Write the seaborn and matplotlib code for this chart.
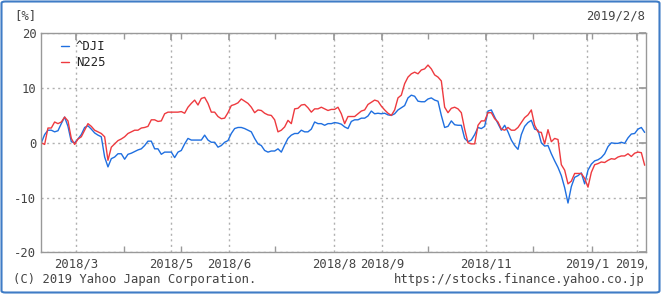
import numpy as np
import pandas as pd
import matplotlib
matplotlib.use("Agg")
import matplotlib.pyplot as plt
import seaborn as sns
from matplotlib.patches import FancyBboxPatch
from matplotlib.transforms import Bbox, TransformedBbox
from matplotlib.lines import Line2D

# ---- data (percent change since 2018/2/8, sampled evenly along the time axis) ----
dji = [
    0, 1.5, 2.3, 2.3, 2.0, 2.2, 3.5, 4.7, 3.0, 0.2, 0, 0.7, 1.5, 2.8, 3.1, 2.5,
    1.8, 1.4, 1.1, -2.6, -4.4, -2.9, -2.6, -2.0, -2.0, -3.0, -2.1, -1.9, -1.6, -1.3, -1.1, -0.5,
    0.3, 0.3, -1.1, -1.1, -2.1, -1.7, -1.7, -1.7, -2.7, -1.7, -1.4, -0.2, 0.8, 0.5, 0.5, 0.5,
    0.5, 1.4, 0.5, 0.1, 0.1, -0.8, -0.5, 0.1, 0.4, 1.7, 2.6, 2.8, 2.8, 2.6, 2.3, 2.0, 0.8,
    -0.2, -0.5, -1.4, -1.7, -1.5, -1.5, -1.1, -1.7, -0.4, 0.8, 1.4, 1.7, 1.7, 2.3, 2.0, 2.0,
    2.5, 3.8, 3.5, 3.5, 3.2, 3.5, 3.5, 3.7, 3.6, 3.4, 2.9, 2.6, 3.9, 4.2, 4.2, 4.5,
    4.5, 4.9, 5.8, 5.3, 5.4, 5.3, 5.4, 5.1, 5.0, 5.3, 6.0, 6.4, 6.8, 8.2, 8.7, 8.5,
    7.6, 7.5, 7.5, 8.0, 8.2, 7.8, 7.6, 5.0, 2.8, 3.0, 4.0, 3.3, 3.2, 3.2, 0.8, 0.2,
    0.5, 1.5, 2.8, 2.6, 3.0, 5.8, 6.0, 4.7, 3.5, 2.3, 3.2, 2.0, 0.5, -0.5, -1.2, 1.5,
    3.0, 3.7, 4.1, 2.5, 2.3, 0.0, -0.6, -0.5, -2.0, -3.3, -4.5, -6.0, -8.2, -11.0,
    -8.0, -6.3, -6.0, -5.5, -7.5, -5.0, -3.9, -3.3, -3.1, -2.7, -2.0, -0.7, 0.0, -0.1,
    -0.1, 0.1, -0.1, 0.9, 1.6, 1.7, 2.5, 2.8, 1.9,
]
n225 = [
    0, -0.3, 2.7, 2.7, 3.8, 3.5, 3.8, 4.7, 4.0, 0.8, -0.3, 0.7, 1.1, 2.3, 3.5, 3.0,
    2.3, 2.0, 1.7, 1.1, -3.2, -0.8, -0.2, 0.4, 0.7, 1.1, 1.7, 2.0, 2.3, 2.3, 2.7, 2.8,
    3.0, 4.2, 4.2, 3.9, 4.0, 5.3, 5.6, 5.6, 5.6, 5.6, 5.7, 5.4, 6.5, 7.2, 7.8, 6.9,
    8.1, 8.3, 7.2, 5.6, 5.6, 4.8, 4.4, 4.5, 5.5, 6.8, 7.0, 7.3, 8.0, 7.6, 7.2, 6.5, 5.5,
    6.0, 5.9, 5.4, 5.1, 5.0, 4.2, 2.0, 2.3, 2.9, 4.1, 3.5, 6.2, 6.3, 6.9, 7.0, 6.4,
    5.6, 6.2, 6.2, 6.5, 6.2, 5.9, 6.1, 6.1, 6.5, 5.3, 3.5, 4.8, 4.8, 4.8, 5.3, 5.8,
    6.0, 7.0, 7.4, 7.8, 7.6, 6.7, 6.0, 5.4, 5.0, 6.0, 8.2, 8.7, 10.8, 12.0, 12.6, 12.9,
    12.6, 13.3, 13.5, 14.2, 13.5, 12.4, 12.0, 11.3, 6.5, 5.5, 6.3, 6.5, 6.2, 5.5, 2.5, 0.0,
    -0.2, -0.2, 3.2, 4.0, 4.0, 5.5, 5.5, 4.4, 3.8, 2.5, 2.3, 2.8, 2.3, 2.3, 2.8, 3.7,
    4.6, 5.1, 6.0, 3.2, 2.0, 1.9, -0.2, 2.4, 0.2, 0.8, 0.6, -4.0, -5.0, -7.5,
    -7.0, -5.6, -5.6, -5.6, -6.5, -8.1, -5.4, -4.0, -3.8, -3.5, -3.6, -3.2, -2.9, -3.0,
    -2.6, -2.4, -2.4, -2.0, -2.5, -1.9, -1.7, -1.8, -4.1,
]
series_names = ["^DJI", "N225"]
tick_labels = ["2018/3", "2018/5", "2018/6", "2018/8", "2018/9", "2018/11", "2019/1", "2019/2"]
y_ticks = [-20, -10, 0, 10, 20]

df = pd.concat([
    pd.DataFrame({"t": np.arange(len(dji)), "pct": dji, "name": series_names[0]}),
    pd.DataFrame({"t": np.arange(len(n225)), "pct": n225, "name": series_names[1]}),
])

# ---- style ----
sns.set_theme(style="white")
plt.rcParams["font.family"] = ["DejaVu Sans Mono"]
plt.rcParams["axes.unicode_minus"] = False
FS = 8.8

W, H = 661, 294
fig = plt.figure(figsize=(W / 100, H / 100), dpi=100)
ax = fig.add_axes([41.3 / W, 1 - 252.3 / H, (646 - 41.3) / W, (252.3 - 33.3) / H])

palette = {"^DJI": "#1f6fe0", "N225": "#ee3a3f"}
sns.lineplot(data=df, x="t", y="pct", hue="name", palette=palette, linewidth=1.0,
             ax=ax, legend=False)

ax.set_xlim(0, 181.4)
ax.set_ylim(-20, 20)
tick_pos = [10.4, 38.9, 56.3, 87.8, 102.2, 133.4, 163.7, 178.7]
ax.set_xticks(tick_pos)
ax.set_xticklabels(tick_labels)
ax.set_xticks([24.8, 42.0, 70.1, 116.0, 147.5, 165.2], minor=True)
ax.set_yticks(y_ticks)
ax.set_yticklabels([str(v) for v in y_ticks])
ax.set_xlabel("")
ax.set_ylabel("")

txt_col = "#444444"
grid_col = "#b0b0b0"
ax.grid(True, which="major", color=grid_col, linestyle=(0, (1.5, 2.5)), linewidth=1.0)
ax.tick_params(axis="both", which="major", direction="in", length=5, color="#999999",
               top=True, right=True, labelsize=FS, labelcolor=txt_col, pad=3.5)
ax.tick_params(axis="x", which="minor", direction="in", length=4, color="#999999",
               top=True, bottom=True)
for s in ax.spines.values():
    s.set_color("#999999")
    s.set_linewidth(1.0)

# legend
handles = [Line2D([0], [0], color=palette[n], lw=1.0) for n in series_names]
leg = ax.legend(handles, series_names, loc="upper left", frameon=False, fontsize=FS,
                handlelength=0.6, handletextpad=0.6, labelspacing=0.25,
                bbox_to_anchor=(0.015, 1.02))
for t in leg.get_texts():
    t.set_color("#222222")

# clip last tick label at the plot's right edge
clip = TransformedBbox(Bbox.from_extents(0, 0, 647 / W, 1), fig.transFigure)
lab = ax.get_xticklabels()[-1]
lab.set_clip_on(True)
lab.set_clip_box(clip)

# header / footer texts
fig.text(14 / W, 1 - 16 / H, "[%]", fontsize=FS, color=txt_col, va="center", ha="left")
fig.text(645 / W, 1 - 16 / H, "2019/2/8", fontsize=FS, color=txt_col, va="center", ha="right")
fig.text(13 / W, 1 - 279 / H, "(C) 2019 Yahoo Japan Corporation.", fontsize=FS,
         color=txt_col, va="center", ha="left")
fig.text(645 / W, 1 - 279 / H, "https://stocks.finance.yahoo.co.jp", fontsize=FS,
         color=txt_col, va="center", ha="right")

# outer blue border
border = FancyBboxPatch((1.5 / W, 1.5 / H), (W - 3) / W, (H - 3) / H,
                        boxstyle="round,pad=0,rounding_size=0.006",
                        transform=fig.transFigure, fill=False,
                        edgecolor="#3f7cc6", linewidth=1.5)
fig.patches.append(border)

fig.savefig("out.png", dpi=100)
